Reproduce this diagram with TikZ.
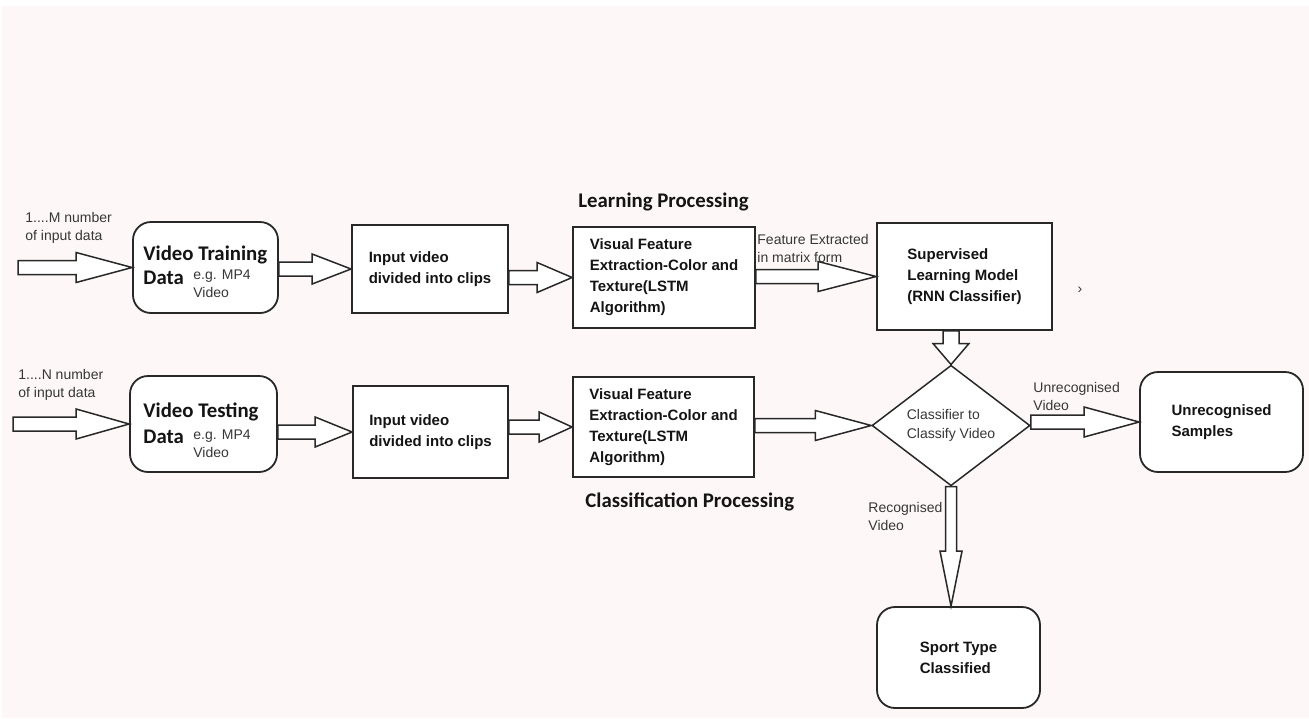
\documentclass[tikz,border=0pt]{standalone}
\usepackage{fontspec}
\setmainfont{Liberation Sans}
\newfontfamily\headfont{Carlito}
\usetikzlibrary{shapes.geometric,calc}

\begin{document}
\begin{tikzpicture}[x=0.5pt,y=-0.5pt,
  every node/.style={font=\fontsize{7}{9}\selectfont,text=inkgray,inner sep=0pt},
  plainbox/.style={draw=linegray,line width=0.9pt,fill=white,align=left,
    font=\fontsize{7.5}{10.5}\selectfont\bfseries,text=boxink},
  softbox/.style={plainbox,rounded corners=9pt},
  headtext/.style={font=\fontsize{10.4}{12}\selectfont\headfont\bfseries,text=boxink},
  fatright/.style={to path={let \p1=(\tikztostart),\p2=(\tikztotarget) in
    (\x1,\y2+3.5pt) -- (\x2-#1,\y2+3.5pt) -- (\x2-#1,\y2+7.5pt) -- (\x2,\y2)
    -- (\x2-#1,\y2-7.5pt) -- (\x2-#1,\y2-3.5pt) -- (\x1,\y2-3.5pt) -- cycle}},
  fatdown/.style n args={3}{to path={let \p1=(\tikztostart),\p2=(\tikztotarget) in
    (\x2-#2,\y1) -- (\x2-#2,\y2+#1) -- (\x2-#3,\y2+#1) -- (\x2,\y2)
    -- (\x2+#3,\y2+#1) -- (\x2+#2,\y2+#1) -- (\x2+#2,\y1) -- cycle}},
  blockarrow/.style={draw=linegray,line width=0.75pt,fill=white,line join=miter}]
  \definecolor{bgpink}{RGB}{253,247,248}
  \definecolor{linegray}{RGB}{40,40,40}
  \definecolor{inkgray}{RGB}{55,55,55}
  \definecolor{boxink}{RGB}{20,20,20}
  \useasboundingbox (0,0) rectangle (1309,718);
  \fill[bgpink] (2,6) rectangle (1309,718);
  \coordinate (inM) at (18,267.5);
  \coordinate (inN) at (13,424);
  \node[softbox,minimum width=72.5pt,minimum height=45.5pt] (train) at (205.5,267.5) {};
  \node[softbox,minimum width=73.5pt,minimum height=48pt] (test) at (203.5,424) {};
  \node[plainbox,minimum width=78pt,minimum height=44pt] (inTop) at (430,269)
    {Input video\\divided into clips};
  \node[plainbox,minimum width=77.5pt,minimum height=46pt] (inBot) at (430.5,432)
    {Input video\\divided into clips};
  \node[plainbox,minimum width=91pt,minimum height=50.5pt] (visTop) at (664,277.5)
    {Visual Feature\\Extraction-Color and\\Texture(LSTM\\Algorithm)};
  \node[plainbox,minimum width=90.5pt,minimum height=50pt] (visBot) at (663.5,427)
    {Visual Feature\\Extraction-Color and\\Texture(LSTM\\Algorithm)};
  \node[plainbox,minimum width=87.5pt,minimum height=53.5pt] (sup) at (964.5,276.5)
    {Supervised\\Learning Model\\(RNN Classifier)};
  \node[draw=linegray,line width=0.75pt,fill=white,shape=diamond,align=left,
    minimum width=79pt,minimum height=52.5pt,font=\fontsize{7}{9.5}\selectfont]
    (dia) at (951,425.5) {Classifier to\\Classify Video};
  \node[softbox,minimum width=81.5pt,minimum height=50pt] (unrec) at (1221.5,422)
    {Unrecognised\\Samples};
  \node[softbox,minimum width=81.5pt,minimum height=50.5pt] (sport) at (958.5,657.5)
    {Sport Type\\Classified};
  \node[headtext,anchor=base west] (trainA) at (143,260) {Video Training};
  \node[headtext,anchor=base west] (trainB) at (143,284) {Data};
  \node[anchor=base west,align=left] (trainC) at (193,297) {e.g. MP4\\Video};
  \node[headtext,anchor=base west] (testA) at (143,417) {Video Testing};
  \node[headtext,anchor=base west] (testB) at (143,443) {Data};
  \node[anchor=base west,align=left] (testC) at (193,457) {e.g. MP4\\Video};
  \node[headtext,anchor=base west] (learnHead) at (578,207) {Learning Processing};
  \node[headtext,anchor=base west] (classHead) at (585,507) {Classification Processing};
  \node[anchor=base west,align=left] (numM) at (25,240) {1....M number\\of input data};
  \node[anchor=base west,align=left] (numN) at (18,397) {1....N number\\of input data};
  \node[anchor=base west,align=left] (featLbl) at (757,262) {Feature Extracted\\in matrix form};
  \node[anchor=base west,align=left] (unrecLbl) at (1033,410) {Unrecognised\\Video};
  \node[anchor=base west,align=left] (recLbl) at (868,530) {Recognised\\Video};
  \node (stray) at (1080,290) {›};
  \draw[blockarrow] (inM) to[fatright=28pt] (train.west);
  \draw[blockarrow] (train.east) to[fatright=19.5pt] (inTop.west);
  \draw[blockarrow] (inTop.east) to[fatright=17.5pt] (visTop.west);
  \draw[blockarrow] (visTop.east) to[fatright=29pt] (sup.west);
  \draw[blockarrow] (inN) to[fatright=26.5pt] (test.west);
  \draw[blockarrow] (test.east) to[fatright=18.5pt] (inBot.west);
  \draw[blockarrow] (inBot.east) to[fatright=16.5pt] (visBot.west);
  \draw[blockarrow] (visBot.east) to[fatright=28pt] (dia.west);
  \draw[blockarrow] (dia.east) to[fatright=27.5pt] (unrec.west);
  \draw[blockarrow] (sup.south) to[fatdown={10.5pt}{4pt}{9pt}] (dia.north);
  \draw[blockarrow] (dia.south) to[fatdown={27.5pt}{2.75pt}{5.5pt}] (sport.north -| dia.south);
\end{tikzpicture}
\end{document}
